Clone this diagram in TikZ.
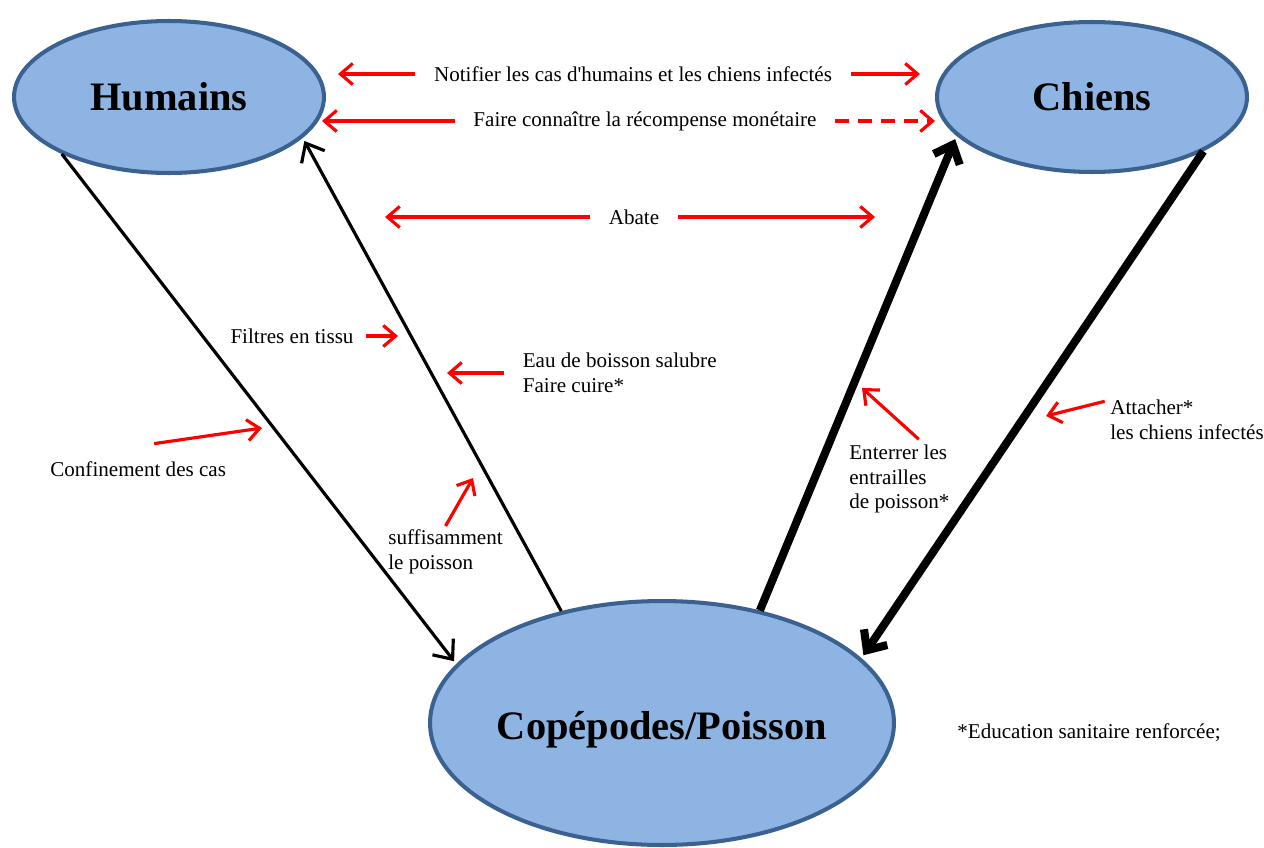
\documentclass[tikz,border=0pt]{standalone}
\usepackage{fontspec}
\setmainfont{Liberation Serif}
\usepackage{xcolor}
\usetikzlibrary{arrows.meta, shapes.geometric}

\definecolor{bulle}{HTML}{8EB4E3}
\definecolor{bordbulle}{HTML}{3B6190}

\begin{document}
\begin{tikzpicture}[x=0.02cm, y=-0.02cm,
        bulle/.style={ellipse, draw=bordbulle, fill=bulle, line width=2.3pt, inner sep=0pt,
            font=\fontsize{23}{27}\selectfont\bfseries},
        titre/.style={font=\fontsize{23}{27}\selectfont\bfseries},
        lien/.style={line width=1.8pt, shorten >=2pt, -{Straight Barb[length=9pt, width=15pt]}},
        lienfort/.style={line width=4.6pt, shorten >=2pt, -{Straight Barb[length=9pt, width=16pt]}},
        action/.style={red, line width=1.8pt, -{Straight Barb[length=7pt, width=12pt]}},
        note/.style={font=\fontsize{12}{14}\selectfont, inner xsep=10.5pt, inner ysep=2pt, align=left}]
        \useasboundingbox (0,0) rectangle (1264,848);

        % les trois populations
        \node[bulle, minimum width=6.2cm, minimum height=3.04cm] (hum) at (169,97) {Humains};
        \node[bulle, minimum width=6.2cm, minimum height=3.0cm] (chi) at (1092,97) {Chiens};
        \node[bulle, minimum width=9.28cm, minimum height=4.88cm,
            label={[titre, yshift=-4pt]center:Copépodes/Poisson}] (cop) at (662,723) {};

        % transmission
        \draw[lien] (hum.208) -- (cop.164);
        \draw[lien] (cop.132) -- (hum.-17);
        \draw[lienfort] (cop.49) -- (chi.196);
        \draw[lienfort] (chi.-26) -- (cop.18);

        % mesures en haut
        \node[note] (notif) at (633,74) {Notifier les cas d\textquotesingle humains et les chiens infectés};
        \coordinate (n1) at (338,74);
        \coordinate (n2) at (920,74);
        \draw[action] (notif) -- (n1);
        \draw[action] (notif) -- (n2);

        \node[note] (faire) at (645,121) {Faire connaître la récompense monétaire};
        \coordinate (f1) at (322,121);
        \coordinate (f2) at (935,121);
        \draw[action] (faire) -- (f1);
        \draw[action, dash pattern=on 8pt off 5pt] (faire) -- (f2);

        \node[note] (abate) at (634,217) {Abate};
        \coordinate (a1) at (385,217);
        \coordinate (a2) at (875,217);
        \draw[action] (abate) -- (a1);
        \draw[action] (abate) -- (a2);

        % mesures cote humains
        \node[note, inner xsep=7pt] (filtres) at (292,336) {Filtres en tissu};
        \coordinate (ft) at (398,336);
        \draw[action] (filtres) -- (ft);

        \node[note, anchor=west] (eau) at (504,373) {Eau de boisson salubre\\Faire cuire*};
        \coordinate (eb) at (447,373);
        \draw[action] (eau) -- (eb);

        \node[note, anchor=north west, inner xsep=0pt] (suff) at (388,526) {suffisamment\\le poisson};
        \coordinate (sf) at (473,478);
        \draw[action] (suff.north) -- (sf);

        \node[note, anchor=west, inner xsep=0pt] (conf) at (50,469) {Confinement des cas};
        \coordinate (cf) at (262,428);
        \draw[action] ([shift={(16,-14)}]conf.north) -- (cf);

        % mesures cote chiens
        \node[note, anchor=north west, inner xsep=0pt] (ent) at (849,441) {Enterrer les\\entrailles\\de poisson*};
        \coordinate (et) at (862,388);
        \draw[action] ([xshift=11pt,yshift=1pt]ent.north) -- (et);

        \node[note, anchor=north west, inner xsep=0pt] (att) at (1110,396) {Attacher*\\les chiens infectés};
        \coordinate (at) at (1046,416);
        \draw[action] ([xshift=-3pt,yshift=-3pt]att.north west) -- (at);

        \node[note, anchor=west, inner xsep=0pt] (educ) at (957,733) {*Education sanitaire renforcée;};
\end{tikzpicture}
\end{document}
